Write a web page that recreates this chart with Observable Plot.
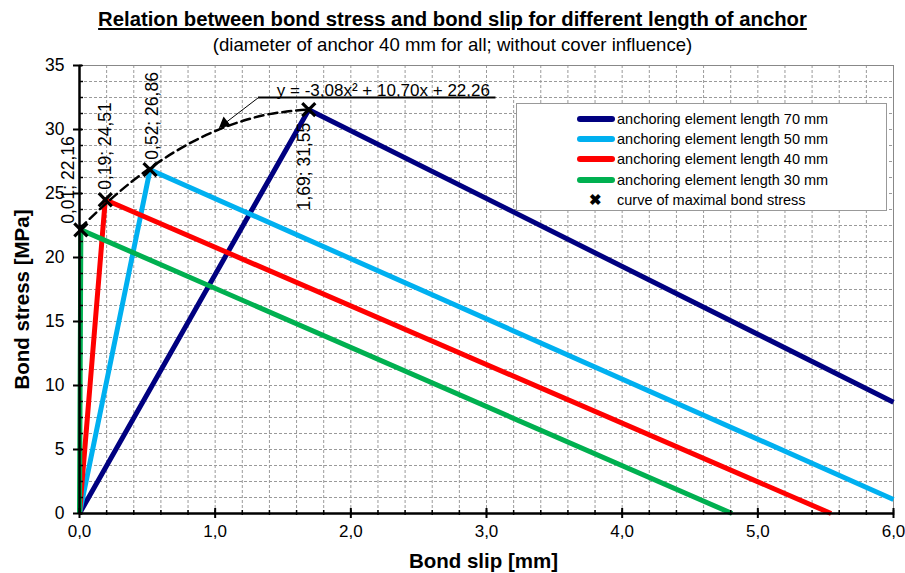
<!DOCTYPE html>
<html><head><meta charset="utf-8">
<script src="https://cdn.jsdelivr.net/npm/d3@7"></script>
<script src="https://cdn.jsdelivr.net/npm/@observablehq/plot@0.6"></script>
<style>
body{margin:0;background:#fff;}
#wrap{position:relative;width:905px;height:573px;overflow:hidden;background:#fff;font-family:"Liberation Sans",Arial,sans-serif;}
#title{position:absolute;left:0;width:905px;top:8px;line-height:23px;text-align:center;font-weight:bold;font-size:20.3px;text-decoration:underline;color:#000;z-index:2}
#subtitle{position:absolute;left:0;width:905px;top:34px;line-height:22px;text-align:center;font-size:18.6px;color:#000;z-index:2}
#chart{position:absolute;left:0;top:56px;z-index:1}
#legend{position:absolute;left:516px;top:103px;width:371px;height:108px;background:#fff;border:1px solid #999;box-sizing:border-box;font-size:14.5px;color:#000;z-index:3}
.row{position:absolute;left:0;height:20px;width:100%}
.sw{position:absolute;left:60px;top:7px;width:38px;height:6px;border-radius:3px}
.lt{position:absolute;left:100px;top:1px;white-space:nowrap;line-height:18px}
.mk{position:absolute;left:72px;top:1px;line-height:18px;font-weight:bold;font-size:15px}
</style></head>
<body><div id="wrap">
<div id="title">Relation between bond stress and bond slip for different length of anchor</div>
<div id="subtitle">(diameter of anchor 40 mm for all; without cover influence)</div>
<div id="chart"></div>
<div id="legend"></div>
</div>
<script>
// ---- data ----
const seriesNames = ["anchoring element length 70 mm","anchoring element length 50 mm","anchoring element length 40 mm","anchoring element length 30 mm"];
const seriesColors = ["#000080","#00b0f0","#ff0000","#00b050"];
const slip70 = [0, 1.69, 6.0];   const stress70 = [0, 31.55, 8.7];
const slip50 = [0, 0.52, 6.0];   const stress50 = [0, 26.86, 1.1];
const slip40 = [0, 0.19, 5.54];  const stress40 = [0, 24.51, 0];
const slip30 = [0, 0.01, 4.81];  const stress30 = [0, 22.16, 0];
const peakSlip = [0.01, 0.19, 0.52, 1.69];
const peakStress = [22.16, 24.51, 26.86, 31.55];
const peakLabels = ["0,01; 22,16","0,19; 24,51","0,52; 26,86","1,69; 31,55"];
const curveSlip = [0, 0.2, 0.4, 0.6, 0.8, 1.0, 1.2, 1.4, 1.6, 1.69];
const curveStress = [22.26, 24.26, 26.05, 27.57, 28.85, 29.88, 30.66, 31.20, 31.48, 31.55];
const eqText = "y = -3,08x² + 10,70x + 22,26";
const eqLine = {x1: 1.32, x2: 3.07, y: 32.5};
const eqTextPos = {x: 2.24, y: 32.5};
const eqArrow = {x1: 1.32, y1: 32.5, x2: 1.03, y2: 30.15};
const xTicks = [0,1,2,3,4,5,6];
const yTicks = [0,5,10,15,20,25,30,35];
const xLabel = "Bond slip [mm]";
const yLabel = "Bond stress [MPa]";
const legendMarkerLabel = "curve of maximal bond stress";

// ---- build ----
const allSlip = [slip70, slip50, slip40, slip30];
const allStress = [stress70, stress50, stress40, stress30];
const lineData = allSlip.flatMap((s, i) => s.map((x, j) => ({x, y: allStress[i][j], s: seriesNames[i]})));
const curveData = curveSlip.map((x, i) => ({x, y: curveStress[i]}));
const peaks = peakSlip.map((x, i) => ({x, y: peakStress[i], label: peakLabels[i]}));
const font = '"Liberation Sans",Arial,sans-serif';
const gridStyle = {stroke: "#9a9a9a", strokeOpacity: 1, strokeDasharray: "3,2", strokeWidth: 1};
const labelOffsets = [{dx: -12, dy: -6, a: "start"}, {dx: 0, dy: -10, a: "start"}, {dx: 2, dy: -10, a: "start"}, {dx: -4, dy: 13, a: "end"}];

const chart = Plot.plot({
  width: 905, height: 517,
  marginLeft: 79, marginRight: 12, marginTop: 9, marginBottom: 60,
  x: {domain: [0, 6]},
  y: {domain: [0, 35]},
  color: {domain: seriesNames, range: seriesColors},
  style: {fontFamily: font, fontSize: "17px", background: "transparent", color: "black", overflow: "visible"},
  marks: [
    Plot.gridX({interval: 0.2, ...gridStyle}),
    Plot.gridY({interval: 1.25, ...gridStyle}),
    Plot.frame({stroke: "#888"}),
    Plot.line(lineData, {x: "x", y: "y", z: "s", stroke: "s", strokeWidth: 5, strokeLinecap: "butt"}),
    Plot.line(curveData, {x: "x", y: "y", stroke: "black", strokeWidth: 2.5, strokeDasharray: "9,5", curve: "natural"}),
    Plot.dot(peaks, {x: "x", y: "y", symbol: "times", r: 6, stroke: "black", strokeWidth: 3.2}),
    ...peaks.map((p, i) => Plot.text([p], {x: "x", y: "y", text: "label", rotate: -90, textAnchor: labelOffsets[i].a, dx: labelOffsets[i].dx, dy: labelOffsets[i].dy, fontSize: 17.5})),
    Plot.ruleY([eqLine], {x1: "x1", x2: "x2", y: "y", stroke: "black", strokeWidth: 2}),
    Plot.link([eqArrow], {x1: "x1", y1: "y1", x2: "x2", y2: "y2", stroke: "black", strokeWidth: 1}),
    Plot.dot([eqArrow], {x: "x2", y: "y2", symbol: "triangle", r: 4.5, rotate: 232, fill: "black", stroke: "none", dx: 5.3, dy: -4.1}),
    Plot.text([eqTextPos], {x: "x", y: "y", text: () => eqText, lineAnchor: "bottom", dy: -2, fontSize: 17}),
    Plot.ruleX([0], {stroke: "black", strokeWidth: 2.5}),
    Plot.ruleY([0], {stroke: "black", strokeWidth: 2.5}),
    Plot.axisX({ticks: xTicks, tickSize: 5, tickPadding: 6, tickFormat: d => d.toFixed(1).replace(".", ","), label: null, strokeWidth: 2, fontSize: 17}),
    Plot.axisX({ticks: xTicks, tickSize: -5, tickFormat: () => "", label: null, strokeWidth: 2}),
    Plot.axisX({interval: 0.2, tickSize: -3, tickFormat: () => "", label: null, strokeWidth: 1.5}),
    Plot.axisX({interval: 0.2, tickSize: 2, tickFormat: () => "", label: null, strokeWidth: 1.5}),
    Plot.axisY({ticks: yTicks, tickSize: 6, tickPadding: 9, label: null, strokeWidth: 2, fontSize: 17.5}),
    Plot.axisY({ticks: yTicks, tickSize: -3, tickFormat: () => "", label: null, strokeWidth: 2}),
    Plot.axisY({interval: 1.25, tickSize: -4, tickFormat: () => "", label: null, strokeWidth: 1.5}),
    Plot.text([xLabel], {frameAnchor: "bottom", textAnchor: "middle", lineAnchor: "middle", dx: -3, dy: 48, fontWeight: "bold", fontSize: 20.5}),
    Plot.text([yLabel], {frameAnchor: "left", textAnchor: "middle", lineAnchor: "middle", dx: -57, dy: 10, rotate: -90, fontWeight: "bold", fontSize: 20.5})
  ]
});
document.getElementById("chart").appendChild(chart);

// legend
const leg = document.getElementById("legend");
const rowTops = [5, 25, 45, 66, 86];
seriesNames.forEach((n, i) => {
  const r = document.createElement("div");
  r.className = "row"; r.style.top = rowTops[i] + "px";
  r.innerHTML = `<span class="sw" style="background:${seriesColors[i]}"></span><span class="lt">${n}</span>`;
  leg.appendChild(r);
});
const r = document.createElement("div");
r.className = "row"; r.style.top = rowTops[4] + "px";
r.innerHTML = `<span class="mk">✖</span><span class="lt">${legendMarkerLabel}</span>`;
leg.appendChild(r);
</script>
</body></html>
